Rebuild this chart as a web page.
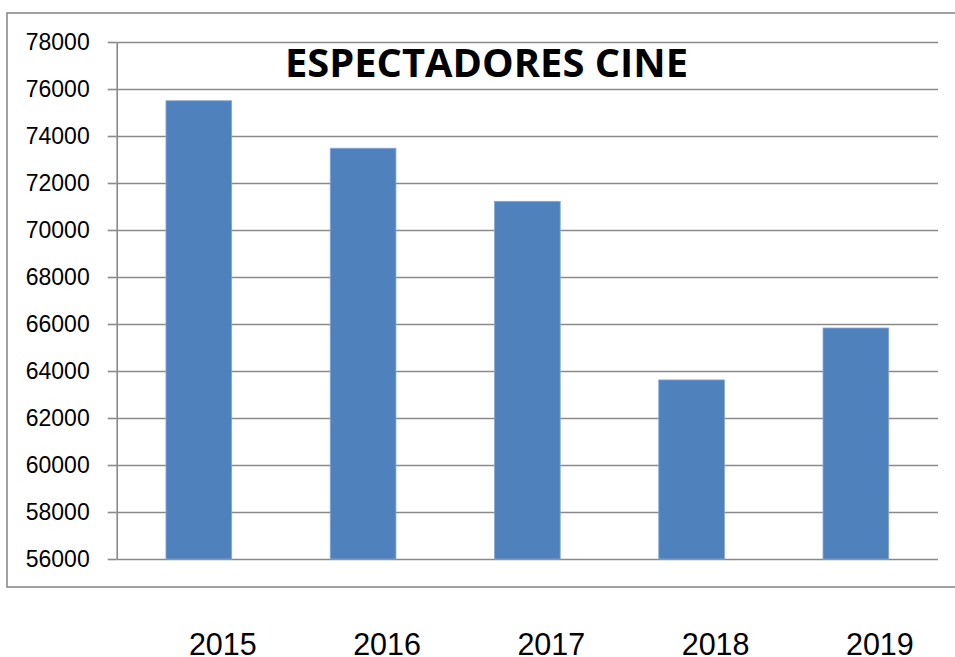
<!DOCTYPE html>
<html lang="es">
  <head>
    <meta charset="UTF-8" />
    <title>Espectadores cine</title>
    <script src="https://d3js.org/d3.v7.min.js"></script>
    <style>
      body {
        margin: 0;
        padding: 0;
        background: #fff;
      }
      .grid line {
        stroke: #8a8a8a;
        stroke-width: 1.6;
      }
      .grid .domain {
        display: none;
      }
      .y-axis text {
        font-family: "Liberation Sans", Arial, sans-serif;
        font-size: 23px;
        fill: #000;
      }
      .y-axis line,
      .y-axis path {
        stroke: #8a8a8a;
        stroke-width: 1.6;
      }
      .year {
        font-family: "Liberation Sans", Arial, sans-serif;
        font-size: 30.5px;
        fill: #000;
        text-anchor: middle;
      }
      .title {
        font-family: "Open Sans", "Liberation Sans", sans-serif;
        font-weight: bold;
        font-size: 40px;
        fill: #000;
        text-anchor: middle;
      }
    </style>
  </head>
  <body>
    <div id="chart"></div>
    <script>
      const years = ["2015", "2016", "2017", "2018", "2019"];
      const viewers = [75500, 73480, 71220, 63620, 65830];
      const yTicks = [56000, 58000, 60000, 62000, 64000, 66000, 68000, 70000, 72000, 74000, 76000, 78000];

      const width = 955;
      const height = 657;
      const plot = { left: 116.7, right: 938, top: 42, bottom: 559 };

      const svg = d3
        .select("#chart")
        .append("svg")
        .attr("width", width)
        .attr("height", height);

      // outer chart frame (right side runs off the page)
      svg
        .append("rect")
        .attr("x", 7)
        .attr("y", 13)
        .attr("width", 960)
        .attr("height", 574)
        .attr("fill", "none")
        .attr("stroke", "#8a8a8a")
        .attr("stroke-width", 1.6);

      const x = d3
        .scaleBand()
        .domain(years)
        .range([plot.left, plot.right])
        .paddingInner(0.6)
        .paddingOuter(0.3);

      const y = d3
        .scaleLinear()
        .domain([56000, 78000])
        .range([plot.bottom, plot.top]);

      // horizontal gridlines
      svg
        .append("g")
        .attr("class", "grid")
        .attr("transform", `translate(${plot.left},0)`)
        .call(
          d3
            .axisRight(y)
            .tickValues(yTicks)
            .tickSize(plot.right - plot.left)
            .tickFormat("")
        );

      // y axis
      svg
        .append("g")
        .attr("class", "y-axis")
        .attr("transform", `translate(${plot.left},0)`)
        .call(
          d3
            .axisLeft(y)
            .tickValues(yTicks)
            .tickSize(9)
            .tickSizeOuter(0)
            .tickPadding(18)
            .tickFormat(d3.format("d"))
        );

      // bars
      svg
        .append("g")
        .selectAll("rect")
        .data(years)
        .join("rect")
        .attr("x", (d) => x(d))
        .attr("y", (d, i) => y(viewers[i]))
        .attr("width", x.bandwidth())
        .attr("height", (d, i) => y(56000) - y(viewers[i]))
        .attr("fill", "#4f81bd")
        .attr("stroke", "#86a7d3")
        .attr("stroke-width", 0.8);

      // year labels sit below the frame, shifted right of the bars
      svg
        .append("g")
        .selectAll("text")
        .data(years)
        .join("text")
        .attr("class", "year")
        .attr("x", (d) => x(d) + x.bandwidth() / 2 + 24)
        .attr("y", 655)
        .text((d) => d);

      svg
        .append("text")
        .attr("class", "title")
        .attr("x", 486.5)
        .attr("y", 77)
        .attr("textLength", 403)
        .attr("lengthAdjust", "spacingAndGlyphs")
        .text("ESPECTADORES CINE");
    </script>
  </body>
</html>
